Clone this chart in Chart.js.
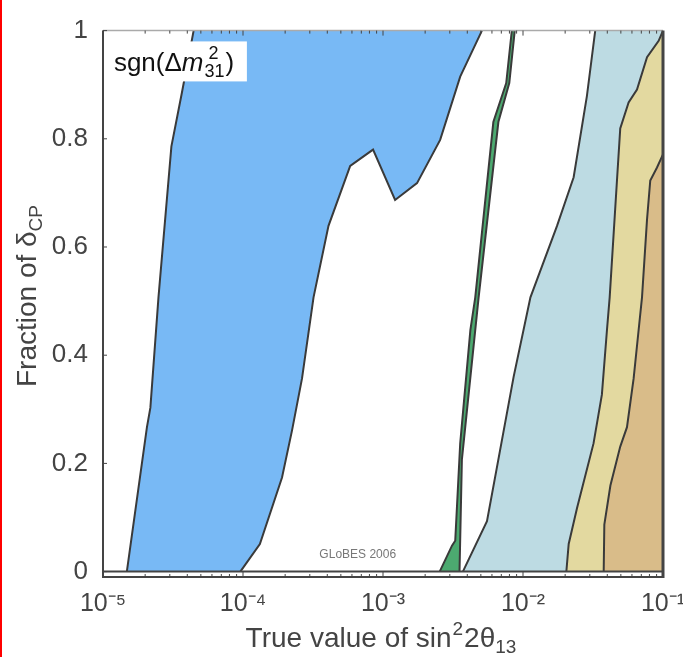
<!DOCTYPE html>
<html>
<head>
<meta charset="utf-8">
<script src="https://cdn.jsdelivr.net/npm/chart.js@4.4.1/dist/chart.umd.min.js"></script>
<style>
    body { margin: 0; background: #fff; }
    #wrap { position: relative; width: 683px; height: 657px; }
    #wrap::before { content: ''; position: absolute; left: 0; top: 0; width: 2px; height: 100%; background: #f00; }
</style>
</head>
<body>
<div id="wrap"><canvas id="chart1"></canvas></div>
<script>
// region boundaries, x = sin^2 2theta13, y = fraction of deltaCP

var blueLeftX  = [1.48e-5, 2.06e-5, 2.18e-5, 2.49e-5, 3.08e-5, 3.66e-5, 4.44e-5];
var blueLeftY  = [0, 0.267, 0.303, 0.507, 0.786, 0.885, 1];

var blueRightX = [9.57e-5, 1.32e-4, 1.90e-4, 2.24e-4, 2.64e-4, 3.19e-4, 4.08e-4, 5.83e-4, 8.49e-4, 1.22e-3, 1.75e-3, 2.56e-3, 3.56e-3, 5.09e-3];
var blueRightY = [0, 0.051, 0.174, 0.261, 0.357, 0.507, 0.639, 0.75, 0.78, 0.687, 0.718, 0.798, 0.915, 1];

var greenLeftX  = [2.54e-3, 3.11e-3, 3.28e-3, 3.56e-3, 4.21e-3, 4.56e-3, 6.14e-3, 7.59e-3, 8.32e-3];
var greenLeftY  = [0, 0.048, 0.057, 0.237, 0.447, 0.507, 0.831, 0.903, 1];
var greenRightX = [3.52e-3, 3.66e-3, 4.82e-3, 6.67e-3, 7.98e-3, 8.73e-3];
var greenRightY = [0, 0.207, 0.507, 0.831, 0.903, 1];

var lightLeftX = [3.72e-3, 5.53e-3, 8.57e-3, 1.13e-2, 1.75e-2, 2.30e-2, 2.86e-2, 3.28e-2];
var lightLeftY = [0, 0.093, 0.36, 0.507, 0.639, 0.729, 0.879, 1];

var yellowLeftX = [2.04e-2, 2.12e-2, 2.43e-2, 3.19e-2, 3.66e-2, 3.98e-2, 4.16e-2, 4.69e-2, 4.95e-2, 5.68e-2, 6.52e-2, 7.69e-2, 9.31e-2, 0.1];
var yellowLeftY = [0, 0.051, 0.117, 0.237, 0.327, 0.447, 0.507, 0.723, 0.819, 0.867, 0.891, 0.951, 0.981, 1];

var brownLeftX = [3.77e-2, 3.81e-2, 4.21e-2, 4.95e-2, 5.53e-2, 6.17e-2, 6.70e-2, 7.08e-2, 7.69e-2, 8.11e-2, 9.06e-2, 0.1, 0.1];
var brownLeftY = [0, 0.087, 0.159, 0.231, 0.267, 0.357, 0.447, 0.507, 0.651, 0.723, 0.747, 0.771, 1];

var xTicks = [1e-5, 1e-4, 1e-3, 1e-2, 1e-1];
var xTickLabels = ['10\u207B\u2075', '10\u207B\u2074', '10\u207B\u00B3', '10\u207B\u00B2', '10\u207B\u00B9'];
var yTicks = [0, 0.2, 0.4, 0.6, 0.8, 1];
var yTickLabels = ['0', '0.2', '0.4', '0.6', '0.8', '1'];

var FONT = '"Liberation Sans", Arial, sans-serif';
var LINE = '#3a3a3a';

function pts(xs, ys) {
    return xs.map(function (x, i) { return { x: x, y: ys[i] }; });
}

// each boundary is filled rightwards up to the end of the x axis
function boundary(xs, ys, color, order) {
    return {
        data: pts(xs, ys),
        borderColor: LINE,
        borderWidth: 2,
        backgroundColor: color,
        fill: { value: 0.1 },
        pointRadius: 0,
        tension: 0,
        order: order
    };
}

// frame, ticks and the small texts inside the plot
var framePlugin = {
    id: 'frame',
    afterDatasetsDraw: function (chart) {
        var ctx = chart.ctx;
        var a = chart.chartArea;
        var xs = chart.scales.x, ys = chart.scales.y;
        var y0 = ys.getPixelForValue(0);

        function seg(x1, y1, x2, y2) {
            ctx.beginPath();
            ctx.moveTo(x1, y1);
            ctx.lineTo(x2, y2);
            ctx.stroke();
        }

        ctx.save();
        ctx.strokeStyle = '#aaa';
        ctx.lineWidth = 1.5;
        seg(a.left, a.top, a.right, a.top);

        ctx.strokeStyle = '#444';
        ctx.lineWidth = 2;
        seg(a.left, y0, a.right, y0);
        seg(a.left - 1, a.bottom, a.right + 1, a.bottom);
        seg(a.left, a.top, a.left, a.bottom);
        ctx.lineWidth = 3;
        seg(a.right, a.top, a.right, a.bottom + 1);

        // log ticks top and bottom
        ctx.lineWidth = 1;
        for (var k = -5; k < -1; k++) {
            for (var m = 1; m <= 9; m++) {
                var px = xs.getPixelForValue(m * Math.pow(10, k));
                var len = m === 1 ? 5 : 3;
                seg(px, a.bottom, px, a.bottom - len);
                seg(px, a.top, px, a.top + len);
            }
        }
        yTicks.forEach(function (v) {
            var py = ys.getPixelForValue(v);
            seg(a.left, py, a.left + 4, py);
        });

        // sgn label box
        var bx = xs.getPixelForValue(1.12e-5), by = ys.getPixelForValue(0.98);
        ctx.fillStyle = '#fff';
        ctx.fillRect(bx, by, 137, 40);
        ctx.fillStyle = '#111';
        ctx.textBaseline = 'alphabetic';
        ctx.textAlign = 'left';
        var tx = bx + 4, base = by + 30;
        ctx.font = '26px ' + FONT;
        ctx.fillText('sgn(\u0394', tx, base);
        tx += ctx.measureText('sgn(\u0394').width;
        ctx.font = 'italic 26px ' + FONT;
        ctx.fillText('m', tx, base);
        tx += ctx.measureText('m').width + 1;
        ctx.font = '18px ' + FONT;
        ctx.fillText('2', tx + 4, base - 12);
        ctx.fillText('31', tx, base + 6);
        tx += ctx.measureText('31').width + 1;
        ctx.font = '26px ' + FONT;
        ctx.fillText(')', tx, base);

        // watermark
        ctx.font = '12px ' + FONT;
        ctx.fillStyle = '#777';
        ctx.textAlign = 'center';
        ctx.fillText('GLoBES 2006', xs.getPixelForValue(6.6e-4), ys.getPixelForValue(0.025));
        ctx.restore();
    },
    afterDraw: function (chart) {
        var ctx = chart.ctx;
        ctx.save();
        ctx.fillStyle = '#444';
        ctx.textBaseline = 'alphabetic';
        ctx.textAlign = 'left';

        // x title: True value of sin^2 2theta_13
        var big = '28px ' + FONT, small = '19px ' + FONT;
        ctx.font = big;
        var w1 = ctx.measureText('True value of sin').width;
        var w3 = ctx.measureText('2\u03B8').width;
        ctx.font = small;
        var w2 = ctx.measureText('2').width + 2;
        var w4 = ctx.measureText('13').width;
        var x = 381 - (w1 + w2 + w3 + w4) / 2, y = 647;
        ctx.font = big;
        ctx.fillText('True value of sin', x, y);
        x += w1;
        ctx.font = small;
        ctx.fillText('2', x + 1, y - 12);
        x += w2;
        ctx.font = big;
        ctx.fillText('2\u03B8', x, y);
        x += w3;
        ctx.font = small;
        ctx.fillText('13', x, y + 6);

        // y title: Fraction of delta_CP
        ctx.translate(36, 296);
        ctx.rotate(-Math.PI / 2);
        ctx.font = big;
        var v1 = ctx.measureText('Fraction of \u03B4').width;
        ctx.font = small;
        var v2 = ctx.measureText('CP').width;
        var sx = -(v1 + v2) / 2;
        ctx.font = big;
        ctx.fillText('Fraction of \u03B4', sx, 0);
        ctx.font = small;
        ctx.fillText('CP', sx + v1, 6);
        ctx.restore();
    }
};

var chart1 = document.getElementById('chart1').getContext('2d');
var myChart = new Chart(chart1, {
    type: 'line',
    data: {
        datasets: [
            boundary(brownLeftX, brownLeftY, '#d9bc89', 1),
            boundary(yellowLeftX, yellowLeftY, '#e3d9a0', 2),
            boundary(lightLeftX, lightLeftY, '#bddbe3', 3),
            boundary(greenRightX, greenRightY, '#ffffff', 4),
            boundary(greenLeftX, greenLeftY, '#4caa70', 5),
            boundary(blueRightX, blueRightY, '#ffffff', 6),
            boundary(blueLeftX, blueLeftY, '#78b9f5', 7)
        ]
    },
    options: {
        indexAxis: 'y',
        responsive: true,
        maintainAspectRatio: false,
        animation: false,
        layout: { padding: { top: 16, right: 20, left: 0, bottom: 0 } },
        plugins: {
            legend: { display: false },
            tooltip: { enabled: false }
        },
        scales: {
            x: {
                type: 'logarithmic',
                min: 1e-5,
                max: 1e-1,
                grid: { display: false, drawTicks: false },
                border: { display: false },
                afterBuildTicks: function (s) {
                    s.ticks = xTicks.map(function (v) { return { value: v }; });
                },
                afterFit: function (s) {
                    s.height = 80;
                    s.paddingRight = 0;
                    s.paddingLeft = 0;
                },
                ticks: {
                    autoSkip: false,
                    maxRotation: 0,
                    padding: 12,
                    color: '#444',
                    font: { family: FONT, size: 25 },
                    callback: function (v) { return xTickLabels[xTicks.indexOf(v)]; }
                }
            },
            y: {
                type: 'linear',
                min: -0.01,
                max: 1,
                grid: { display: false, drawTicks: false },
                border: { display: false },
                afterBuildTicks: function (s) {
                    s.ticks = yTicks.map(function (v) { return { value: v }; });
                },
                afterFit: function (s) { s.width = 103; },
                ticks: {
                    padding: 15,
                    color: '#444',
                    font: { family: FONT, size: 26 },
                    callback: function (v) { return yTickLabels[yTicks.indexOf(v)]; }
                }
            }
        }
    },
    plugins: [framePlugin]
});
</script>
</body>
</html>
